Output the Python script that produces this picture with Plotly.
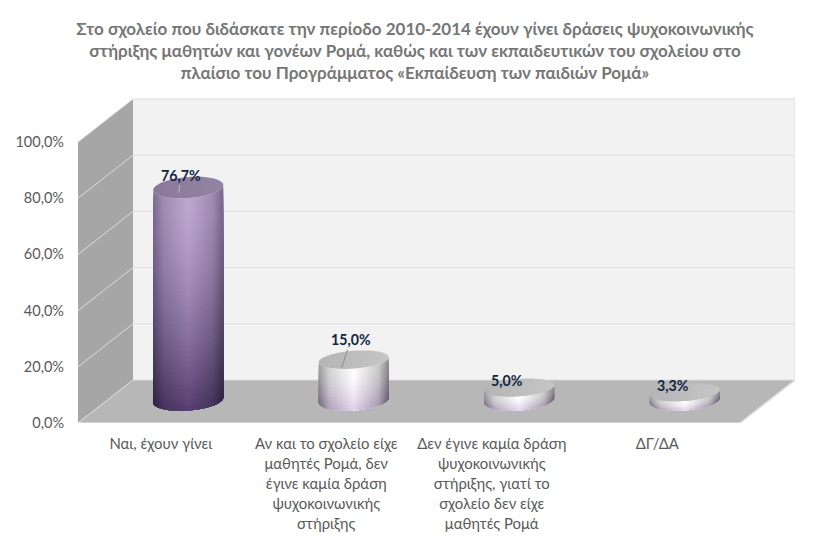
import numpy as np
import plotly.graph_objects as go

title_lines = [
    "Στο σχολείο που διδάσκατε την περίοδο 2010-2014 έχουν γίνει δράσεις ψυχοκοινωνικής",
    "στήριξης μαθητών και γονέων Ρομά, καθώς και των εκπαιδευτικών του σχολείου στο",
    "πλαίσιο του Προγράμματος «Εκπαίδευση των παιδιών Ρομά»",
]
categories = [
    "Ναι, έχουν γίνει",
    "Αν και το σχολείο είχε<br>μαθητές Ρομά, δεν<br>έγινε καμία δράση<br>ψυχοκοινωνικής<br>στήριξης",
    "Δεν έγινε καμία δράση<br>ψυχοκοινωνικής<br>στήριξης, γιατί το<br>σχολείο δεν είχε<br>μαθητές Ρομά",
    "ΔΓ/ΔΑ",
]
values = [76.7, 15.0, 5.0, 3.3]
y_ticks = [0, 20, 40, 60, 80, 100]
y_tick_labels = ["0,0%", "20,0%", "40,0%", "60,0%", "80,0%", "100,0%"]

FONT = "Lato, 'Noto Sans', sans-serif"
W, H = 827, 555
L, R, T, B = 78, 795, 98, 423
PX_X = 165.5
PX_Y = 2.81
DX = 55 / PX_X
DY = 43 / PX_Y
XMIN, XMAX = -0.5, 3.5


def hexrgb(c):
    return np.array([int(c[i:i + 2], 16) for i in (1, 3, 5)], float)


def rgb(a):
    return "rgb(%d,%d,%d)" % tuple(np.round(a))


fig = go.Figure()


def poly(xs, ys, color):
    fig.add_trace(go.Scatter(x=xs, y=ys, mode="lines", fill="toself", fillcolor=color,
                             line=dict(width=0), hoverinfo="skip", showlegend=False))


def seg(xs, ys, color, width=1.0):
    fig.add_trace(go.Scatter(x=xs, y=ys, mode="lines", line=dict(color=color, width=width),
                             hoverinfo="skip", showlegend=False))


# walls and floor
poly([XMIN + DX, XMAX + DX, XMAX + DX, XMIN + DX, XMIN + DX], [DY, DY, 100 + DY, 100 + DY, DY], "#F2F2F2")
poly([XMIN, XMIN + DX, XMIN + DX, XMIN, XMIN], [0, DY, 100 + DY, 100, 0], "#A6A6A6")
poly([XMIN, XMIN + DX, XMAX + DX, XMAX, XMIN], [0, DY, DY, 0, 0], "#B7B7B7")
GRID = "#DDDDDD"
for v in y_ticks:
    seg([XMIN, XMIN + DX, XMAX + DX], [v, v + DY, v + DY], GRID)
seg([XMIN, XMAX, XMAX + DX], [0, 0, DY], GRID, 1.5)
seg([XMAX + DX, XMAX + DX], [DY, 100 + DY], GRID, 1)

A = 35 / PX_X
BASE_RY = 10.5 / PX_Y
S = 2.5 / PX_Y
base = 23 / PX_Y  # foot of the cylinders above the front edge of the floor


def top_of(v):
    # perspective: short cylinders lose a little height
    return base + (2.79 * v - 1.5) / PX_Y


def cap_ry(v):
    return (8.5 + 2 * v / values[0]) / PX_Y


def ellipse(cx, cy, ry, t):
    return cx + A * np.cos(t), cy - ry * np.sin(t) + S * np.cos(t)


pale = dict(top=("#9C9C9C", "#FFFFFF", "#8A8A8A"), bot=("#75677F", "#DCCCE8", "#64566F"),
            cap=("#B4B4B4", "#C6C6C6"))
styles = [
    dict(top=("#7D6A90", "#BDA8D0", "#7A668C"), bot=("#2E2240", "#563C71", "#2C2040"),
         cap=("#8A7899", "#9484A3"), n=40),
    dict(pale, n=14),
    dict(pale, n=8),
    dict(pale, n=8),
]

front = np.linspace(np.pi, 0, 41)
for i, (v, st) in enumerate(zip(values, styles)):
    cx = i + DX / 2
    top = top_of(v)
    ry_top = cap_ry(v)
    # body is painted top-down in curved strips, each with a horizontal gradient
    for k in range(st["n"]):
        f = k / (st["n"] - 1)
        h = top + (base - top) * f
        ry = ry_top + (BASE_RY - ry_top) * f
        xt, yt = ellipse(cx, h, ry, front)
        xb, yb = ellipse(cx, base, BASE_RY, front[::-1])
        g = f ** 1.5
        lc, cc, rc = [hexrgb(st["top"][j]) * (1 - g) + hexrgb(st["bot"][j]) * g for j in range(3)]
        scale = [[0, rgb(lc)], [0.15, rgb(lc * .45 + cc * .55)], [0.5, rgb(cc)],
                 [0.85, rgb(rc * .45 + cc * .55)], [1, rgb(rc)]]
        fig.add_trace(go.Scatter(
            x=np.r_[xt, xb], y=np.r_[yt, yb], mode="none", fill="toself",
            fillgradient=dict(type="horizontal", colorscale=scale, start=cx - A, stop=cx + A),
            hoverinfo="skip", showlegend=False))
    tt = np.linspace(0, 2 * np.pi, 81)
    xc, yc = ellipse(cx, top, ry_top, tt)
    fig.add_trace(go.Scatter(
        x=xc, y=yc, mode="none", fill="toself",
        fillgradient=dict(type="horizontal", colorscale=[[0, st["cap"][0]], [1, st["cap"][1]]],
                          start=cx - A, stop=cx + A),
        hoverinfo="skip", showlegend=False))

labels = [f"{v:.1f}%".replace(".", ",") for v in values]
# label offset from the cylinder top centre, in pixels; leader tip offset too
offsets = [(-7.5, -12.5), (-3, -20), (-12, -7), (-11.5, -7)]
leaders = [(-9.5, 5.5), (-12, 8), None, None]
LABEL_FONT = dict(family=FONT, size=14.2, color="#10253F")
annotations = []
for i, (v, lab, off, ld) in enumerate(zip(values, labels, offsets, leaders)):
    cx = i + DX / 2
    top = top_of(v)
    if ld:
        annotations.append(dict(x=cx + ld[0] / PX_X, y=top - ld[1] / PX_Y, xref="x", yref="y",
                                ax=off[0] - ld[0], ay=off[1] - ld[1], axref="pixel", ayref="pixel",
                                text=f"<b>{lab}</b>", showarrow=True, arrowhead=0, arrowwidth=1,
                                arrowcolor="#8C8C8C" if i else "#C0B4CC", standoff=0,
                                font=LABEL_FONT))
    else:
        annotations.append(dict(x=cx, y=top, xref="x", yref="y", xshift=off[0], yshift=-off[1],
                                text=f"<b>{lab}</b>", showarrow=False, font=LABEL_FONT))

title = "<br>".join(title_lines)
ticktext = ["<br>".join(f'<span style="font-size:14.9px">{p}</span>' for p in c.split("<br>")) for c in categories]

fig.update_layout(
    width=W, height=H, autosize=False, plot_bgcolor="white", paper_bgcolor="white",
    margin=dict(l=L, r=W - R, t=T, b=H - B, pad=0),
    showlegend=False,
    title=dict(text="<b>" + title + "</b>", x=415 / W, xanchor="center", y=1 - 35 / H, yanchor="top",
               font=dict(family=FONT, size=17, color="#767676")),
    xaxis=dict(range=[XMIN, XMAX + DX], tickvals=list(range(len(categories))), ticktext=ticktext,
               tickangle=0, showgrid=False, zeroline=False, showline=False, ticks="",
               tickfont=dict(family=FONT, size=15.4, color="#595959"), ticklabelstandoff=10),
    yaxis=dict(range=[0, (B - T) / PX_Y], tickvals=y_ticks, ticktext=y_tick_labels,
               showgrid=False, zeroline=False, showline=False, ticks="",
               tickfont=dict(family=FONT, size=14.5, color="#595959"), ticklabelstandoff=13),
    annotations=annotations,
)
fig.write_html("out.html", config={"displayModeBar": False},
               post_script="document.body.style.margin='0';")
